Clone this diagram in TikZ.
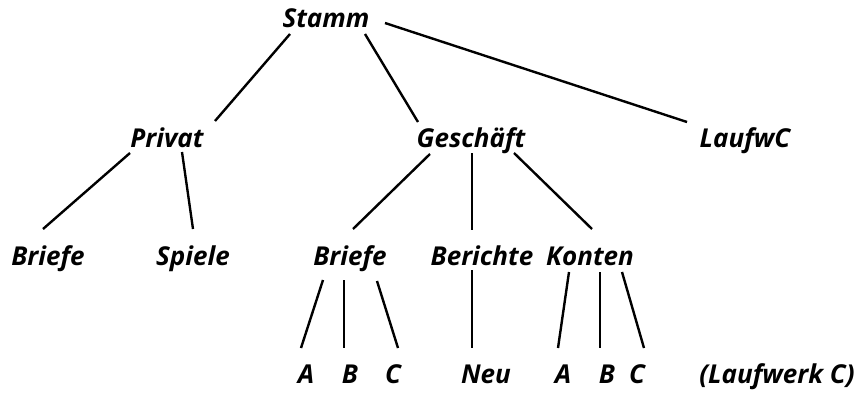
\documentclass[tikz,border=0pt]{standalone}
\usepackage{fontspec}
\setmainfont{Open Sans}
\begin{document}
\begin{tikzpicture}[x=1pt,y=-1pt,
  lab/.style={anchor=base,inner sep=0pt,font=\fontsize{26}{31}\selectfont\bfseries\itshape},
  edge/.style={line width=2.4pt}]
\useasboundingbox (0,0) rectangle (860,396);
\node[lab] (stamm) at (326,28) {Stamm};
\node[lab] (privat) at (167,147) {Privat};
\node[lab] (gesch) at (471,147) {Geschäft};
\node[lab] (lauf) at (745,147) {LaufwC};
\node[lab] (briefeA) at (48,265) {Briefe};
\node[lab] (spiele) at (193,265) {Spiele};
\node[lab] (briefeB) at (350,265) {Briefe};
\node[lab] (berichte) at (482,265) {Berichte};
\node[lab] (konten) at (590,265) {Konten};
\node[lab] (a1) at (306,383) {A};
\node[lab] (b1) at (350,383) {B};
\node[lab] (c1) at (393,383) {C};
\node[lab] (neu) at (486,383) {Neu};
\node[lab] (a2) at (563,383) {A};
\node[lab] (b2) at (607,383) {B};
\node[lab] (c2) at (637,383) {C};
\node[lab] (lw) at (777,383) {(Laufwerk C)};
\draw[edge] ([shift={(-36,6)}]stamm.base) -- ([shift={(48,-26)}]privat.base);
\draw[edge] ([shift={(39,6)}]stamm.base) -- ([shift={(-53,-25)}]gesch.base);
\draw[edge] ([shift={(59,-5)}]stamm.base) -- ([shift={(-58,-25)}]lauf.base);
\draw[edge] ([shift={(-37,6)}]privat.base) -- ([shift={(-5,-36)}]briefeA.base);
\draw[edge] ([shift={(15,5)}]privat.base) -- ([shift={(0,-36)}]spiele.base);
\draw[edge] ([shift={(-41,7)}]gesch.base) -- ([shift={(3,-36)}]briefeB.base);
\draw[edge] ([shift={(1,6)}]gesch.base) -- ([shift={(-10,-35)}]berichte.base);
\draw[edge] ([shift={(43,6)}]gesch.base) -- ([shift={(2,-36)}]konten.base);
\draw[edge] ([shift={(-27,15)}]briefeB.base) -- ([shift={(-5,-35)}]a1.base);
\draw[edge] ([shift={(-6,15)}]briefeB.base) -- ([shift={(-6,-35)}]b1.base);
\draw[edge] ([shift={(27,16)}]briefeB.base) -- ([shift={(5,-35)}]c1.base);
\draw[edge] ([shift={(-10,5)}]berichte.base) -- ([shift={(-14,-35)}]neu.base);
\draw[edge] ([shift={(-21,7)}]konten.base) -- ([shift={(-5,-35)}]a2.base);
\draw[edge] ([shift={(10,7)}]konten.base) -- ([shift={(-7,-35)}]b2.base);
\draw[edge] ([shift={(32,7)}]konten.base) -- ([shift={(7,-35)}]c2.base);
\end{tikzpicture}
\end{document}
